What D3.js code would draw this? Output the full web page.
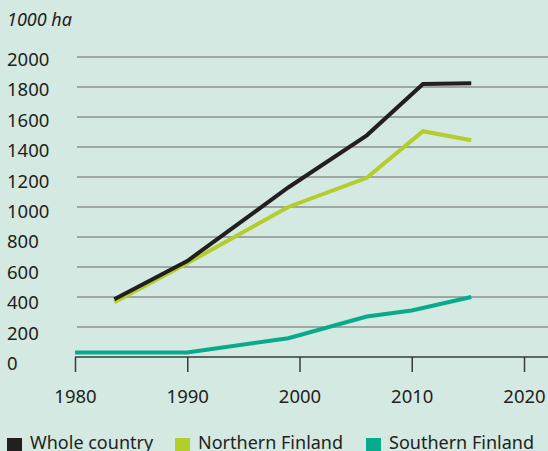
<!DOCTYPE html>
<html>
<head>
<meta charset="utf-8">
<script src="https://cdn.jsdelivr.net/npm/d3@7"></script>
<style>
  html, body { margin: 0; padding: 0; background: #d3e9e1; }
  svg { display: block; font-family: "Noto Sans", sans-serif; }
</style>
</head>
<body>
<div id="chart"></div>
<script>
// Drained peatland area, 1000 ha

const wholeYears = [1983.5, 1990, 1999, 2006, 2011, 2015.3];
const wholeValues = [385, 640, 1130, 1478, 1820, 1825];

const northYears = [1983.5, 1990, 1999, 2006, 2011, 2015.3];
const northValues = [365, 625, 1000, 1195, 1505, 1445];

const southYears = [1980, 1990, 1999, 2006, 2010, 2015.3];
const southValues = [30, 30, 125, 270, 310, 400];

const yTicks = [0, 200, 400, 600, 800, 1000, 1200, 1400, 1600, 1800, 2000];
const xTicks = [1980, 1990, 2000, 2010, 2020];

const seriesNames = ['Whole country', 'Northern Finland', 'Southern Finland'];
const colors = ['#231f20', '#b3cd2b', '#07ab8c'];

const W = 548, H = 451;

const svg = d3.select('#chart').append('svg')
	.attr('width', W)
	.attr('height', H);

const x = d3.scaleLinear().domain([1980, 2020]).range([75, 524]);
const y = d3.scaleLinear().domain([0, 2000]).range([357, 57]);
// labels sit a little off the gridlines in the original
const yLab = d3.scaleLinear().domain([0, 2000]).range([370, 66]);

// unit label
svg.append('text')
	.attr('x', 7)
	.attr('y', 26)
	.style('font-size', '18px')
	.style('font-style', 'italic')
	.attr('fill', '#231f20')
	.text('1000 ha');

// gridlines
svg.selectAll('.grid')
	.data(yTicks.filter(d => d > 0))
	.enter()
	.append('line')
	.attr('x1', 77)
	.attr('x2', W)
	.attr('y1', d => y(d))
	.attr('y2', d => y(d))
	.attr('stroke', '#8c918e')
	.attr('stroke-width', 1.5);

// y labels
svg.selectAll('.ylab')
	.data(yTicks)
	.enter()
	.append('text')
	.attr('x', 7)
	.attr('y', d => yLab(d))
	.style('font-size', '18.5px')
	.attr('fill', '#231f20')
	.text(d => d);

// x axis
const xAxis = svg.append('g')
	.attr('transform', `translate(0,${y(0)})`)
	.call(d3.axisBottom(x).tickValues(xTicks).tickFormat(d3.format('d')).tickSize(15));

xAxis.select('.domain').remove();
xAxis.append('line')
	.attr('x1', x(1980))
	.attr('x2', W)
	.attr('stroke', '#3a3a3a')
	.attr('stroke-width', 1.5);
xAxis.selectAll('.tick line').attr('stroke', '#3a3a3a').attr('stroke-width', 1.5);
xAxis.selectAll('.tick text')
	.attr('y', 46)
	.attr('dy', null)
	.style('font-size', '18.5px')
	.style('font-family', '"Noto Sans", sans-serif')
	.attr('fill', '#231f20');

// lines
const seriesData = [
	wholeYears.map((yr, i) => [yr, wholeValues[i]]),
	northYears.map((yr, i) => [yr, northValues[i]]),
	southYears.map((yr, i) => [yr, southValues[i]])
];

const line = d3.line().x(d => x(d[0])).y(d => y(d[1]));

// draw southern and northern first, whole country on top
[2, 1, 0].forEach(i => {
	svg.append('path')
		.datum(seriesData[i])
		.attr('fill', 'none')
		.attr('stroke', colors[i])
		.attr('stroke-width', 4)
		.attr('stroke-linejoin', 'miter')
		.attr('d', line);
});

// legend
const legendX = [7, 175, 366];
const legend = svg.selectAll('.legend')
	.data(seriesNames)
	.enter()
	.append('g')
	.attr('transform', (d, i) => `translate(${legendX[i]},438)`);

legend.append('rect')
	.attr('width', 15)
	.attr('height', 15)
	.attr('fill', (d, i) => colors[i]);

legend.append('text')
	.attr('x', 23)
	.attr('y', 11)
	.style('font-size', '18px')
	.attr('fill', '#231f20')
	.text(d => d);
</script>
</body>
</html>
